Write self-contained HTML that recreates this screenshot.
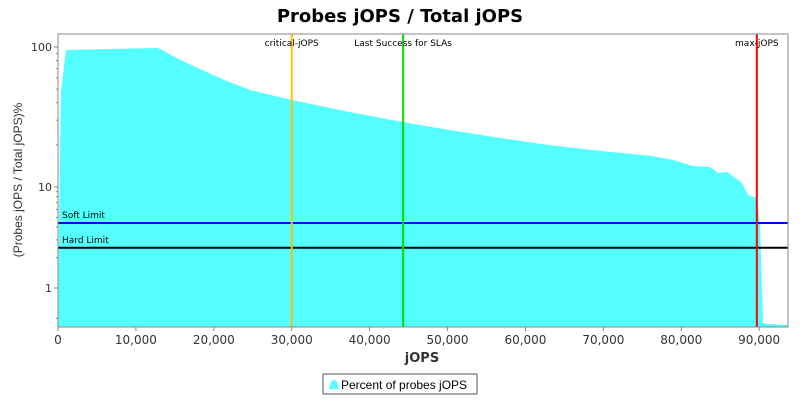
<!DOCTYPE html>
<html><head><meta charset="utf-8"><style>
body{margin:0;background:#fff;width:800px;height:400px;overflow:hidden;font-family:"DejaVu Sans","Liberation Sans",sans-serif}
</style></head><body>
<svg id="c" width="800" height="400" xmlns="http://www.w3.org/2000/svg">
<text x="400" y="22" text-anchor="middle" font-size="18" font-weight="bold">Probes jOPS / Total jOPS</text>
<text x="422" y="362" text-anchor="middle" font-size="13" font-weight="bold" fill="#333">jOPS</text>
<text transform="translate(22,180) rotate(-90)" text-anchor="middle" font-size="12" fill="#333" font-family="Liberation Sans,sans-serif">(Probes jOPS / Total jOPS)%</text>
<g id="plot"></g>
<g>
<rect x="323" y="374" width="154" height="20" fill="#fff" stroke="#555"/>
<path d="M329,389 L331,382 Q334,378 337,382 L339,389 Z" fill="#55ffff"/>
<text x="341" y="389" font-size="12" font-family="Liberation Sans,sans-serif">Percent of probes jOPS</text>
</g>
</svg>
<script>
const jops=[0,130,385,1030,12840,15500,18230,21400,24650,30040,37480,44290,50320,56740,63160,69580,75990,79000,81510,83700,84720,85880,87800,88580,89730,90120,90500,91010,93710];
const pct=[0.41,5,47.7,95.2,98.4,82,69.6,58,49.3,41.8,34.3,29.1,25.5,22.4,19.9,18.1,16.7,15.6,14.1,13.9,12.6,12.8,10.7,8.3,7.8,4.0,0.45,0.44,0.43];
const xTicks=[0,10000,20000,30000,40000,50000,60000,70000,80000,90000];
const yTicks=[1,10,100];
const limits=[{name:"Soft Limit",v:4.4,c:"#0000ff"},{name:"Hard Limit",v:2.5,c:"#000"}];
const markers=[{name:"critical-jOPS",v:30000,c:"#ffc000"},{name:"Last Success for SLAs",v:44300,c:"#00e000"},{name:"max-jOPS",v:89700,c:"#ff0000"}];
const L=58,R=788,T=34,B=327,XMAX=93700;
function X(v){return L+v/XMAX*(R-L);}
function Y(v){const l=Math.log10(v);
 if(l>=1)return 187-(l-1)*140;
 return 288-l*101;}
const ns="http://www.w3.org/2000/svg",g=document.getElementById('plot');
function mk(t,a,txt){const e=document.createElementNS(ns,t);for(const k in a)e.setAttribute(k,a[k]);if(txt!=null)e.textContent=txt;g.appendChild(e);return e;}
let d="M"+X(jops[0])+","+B;
for(let i=0;i<jops.length;i++)d+=" L"+X(jops[i]).toFixed(1)+","+Math.min(B,Y(pct[i])).toFixed(1);
d+=" L"+X(jops[jops.length-1])+","+B+" Z";
let e=mk('path',{d:d,fill:'#55ffff'});


limits.forEach(l=>{const y=Y(l.v);
 let ln=mk('line',{x1:L,x2:R,y1:y,y2:y,stroke:l.c,'stroke-width':2});
 
 
 let t=mk('text',{x:L+4,y:y-5,'font-size':9},l.name);
 
 });
markers.forEach(m=>{const x=X(m.v);
 let ln=mk('line',{x1:x,x2:x,y1:T,y2:B,stroke:m.c,'stroke-width':2});
 
 
 let t=mk('text',{x:x,y:T+12,'font-size':9,'text-anchor':'middle'},m.name);
 
 });
e=mk('rect',{x:L,y:T,width:R-L,height:B-T,fill:'none',stroke:'#888'});


xTicks.forEach(v=>{const x=X(v);
 let tk=mk('line',{x1:x,x2:x,y1:B,y2:B+4,stroke:'#888'});
 
 
 let t=mk('text',{x:x,y:B+17,'font-size':12,'text-anchor':'middle',fill:'#333'},v.toLocaleString('en-US'));
 
 });
yTicks.forEach(v=>{const y=Y(v);
 let tk=mk('line',{x1:L-4,x2:L,y1:y,y2:y,stroke:'#888'});
 
 
 let t=mk('text',{x:L-6,y:y+4,'font-size':11,'text-anchor':'end',fill:'#333'},String(v));
 
 
 for(let k=2;k<10;k++){const yy=Y(v*k);if(yy<T)continue;
  let m=mk('line',{x1:L-2,x2:L,y1:yy,y2:yy,stroke:'#888'});
  
  }
 const y5=Y(v/2);if(v===1&&y5<B){let m=mk('line',{x1:L-2,x2:L,y1:y5,y2:y5,stroke:'#888'});
  
  }
});
</script>
</body></html>
